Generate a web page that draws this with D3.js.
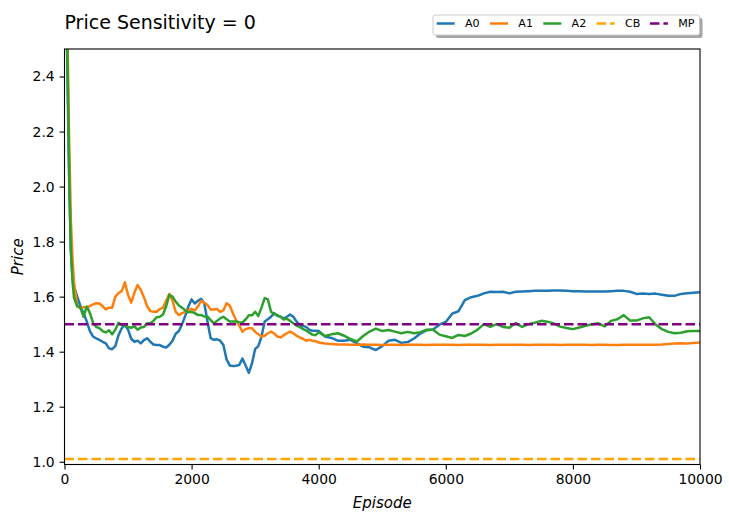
<!DOCTYPE html>
<html>
<head>
<meta charset="utf-8">
<script src="https://cdn.jsdelivr.net/npm/d3@7"></script>
<style>
  html, body { margin: 0; padding: 0; background: #fff; }
  svg { display: block; font-family: "DejaVu Sans", sans-serif; }
</style>
</head>
<body>
<svg id="chart" width="729" height="512"></svg>
<script>
// Episode grid: fine steps through the early transient, then coarser.
const episodes = [0, 25, 50, 75, 100, 125, 150]
  .concat(d3.range(200, 4001, 50))
  .concat(d3.range(4100, 10001, 100));

// Agent A0 price trajectory
const priceA0 = [
  3.0, 2.7, 2.35, 2.0, 1.77, 1.67, 1.636,
  1.600, 1.566, 1.540, 1.510, 1.475, 1.455, 1.448, 1.443, 1.436, 1.430,
  1.412, 1.409, 1.420, 1.460, 1.485, 1.497, 1.480, 1.447, 1.436, 1.440,
  1.430, 1.442, 1.449, 1.436, 1.426, 1.424, 1.424, 1.418, 1.415, 1.425,
  1.440, 1.465, 1.475, 1.500, 1.530, 1.565, 1.590, 1.575, 1.585, 1.592,
  1.575, 1.510, 1.449, 1.443, 1.445, 1.440, 1.424, 1.372, 1.350, 1.348,
  1.349, 1.352, 1.375, 1.350, 1.323, 1.357, 1.410, 1.420, 1.455, 1.510,
  1.518, 1.527, 1.540, 1.530, 1.527, 1.521, 1.527, 1.535, 1.527, 1.510,
  1.497, 1.494, 1.490, 1.480, 1.476, 1.476, 1.475,
  1.455, 1.450, 1.440, 1.440, 1.443, 1.430, 1.418, 1.416, 1.406, 1.420,
  1.440, 1.443, 1.432, 1.435, 1.448, 1.466, 1.478, 1.481, 1.498, 1.508,
  1.538, 1.547, 1.587, 1.598, 1.603, 1.612, 1.618, 1.617, 1.618, 1.612,
  1.618, 1.619, 1.620, 1.621, 1.621, 1.621, 1.622, 1.622, 1.621, 1.620,
  1.620, 1.619, 1.619, 1.619, 1.619, 1.620, 1.621, 1.621, 1.618, 1.610,
  1.611, 1.610, 1.611, 1.607, 1.603, 1.603, 1.610, 1.612, 1.614, 1.616
];

// Agent A1 price trajectory
const priceA1 = [
  3.2, 2.85, 2.5, 2.15, 1.88, 1.74, 1.65,
  1.567, 1.558, 1.562, 1.560, 1.566, 1.572, 1.576, 1.575, 1.565, 1.554,
  1.560, 1.560, 1.600, 1.613, 1.620, 1.652, 1.606, 1.578, 1.615, 1.642,
  1.625, 1.598, 1.565, 1.548, 1.545, 1.545, 1.555, 1.560, 1.585, 1.610,
  1.585, 1.545, 1.533, 1.540, 1.545, 1.552, 1.555, 1.550, 1.565, 1.585,
  1.578, 1.570, 1.553, 1.553, 1.555, 1.545, 1.550, 1.576, 1.568, 1.540,
  1.515, 1.495, 1.473, 1.482, 1.485, 1.485, 1.472, 1.463, 1.455, 1.458,
  1.467, 1.473, 1.466, 1.455, 1.452, 1.460, 1.467, 1.473, 1.467, 1.458,
  1.452, 1.447, 1.440, 1.443, 1.440, 1.438, 1.433,
  1.430, 1.428, 1.426, 1.426, 1.425, 1.425, 1.426, 1.425, 1.425, 1.424,
  1.425, 1.425, 1.424, 1.425, 1.425, 1.425, 1.424, 1.425, 1.425, 1.425,
  1.425, 1.424, 1.425, 1.425, 1.425, 1.425, 1.424, 1.425, 1.425, 1.425,
  1.425, 1.425, 1.424, 1.425, 1.425, 1.425, 1.425, 1.424, 1.425, 1.425,
  1.425, 1.425, 1.424, 1.425, 1.425, 1.424, 1.424, 1.425, 1.425, 1.425,
  1.425, 1.425, 1.425, 1.426, 1.428, 1.430, 1.431, 1.430, 1.432, 1.433
];

// Agent A2 price trajectory
const priceA2 = [
  3.1, 2.78, 2.42, 2.03, 1.77, 1.66, 1.595,
  1.565, 1.560, 1.527, 1.564, 1.540, 1.505, 1.490, 1.485, 1.475, 1.470,
  1.478, 1.463, 1.480, 1.505, 1.497, 1.495, 1.490, 1.487, 1.492, 1.480,
  1.488, 1.490, 1.503, 1.503, 1.512, 1.525, 1.527, 1.535, 1.565, 1.606,
  1.600, 1.582, 1.568, 1.560, 1.550, 1.543, 1.545, 1.540, 1.533, 1.533,
  1.528, 1.527, 1.515, 1.503, 1.512, 1.521, 1.527, 1.518, 1.510, 1.510,
  1.510, 1.507, 1.506, 1.517, 1.532, 1.532, 1.545, 1.530, 1.560, 1.595,
  1.590, 1.545, 1.537, 1.533, 1.527, 1.517, 1.520, 1.512, 1.503, 1.495,
  1.490, 1.483, 1.477, 1.470, 1.462, 1.460, 1.470,
  1.457, 1.463, 1.467, 1.458, 1.446, 1.437, 1.457, 1.473, 1.484, 1.475,
  1.479, 1.473, 1.467, 1.472, 1.467, 1.471, 1.480, 1.480, 1.462, 1.456,
  1.450, 1.461, 1.457, 1.466, 1.480, 1.500, 1.490, 1.500, 1.490, 1.487,
  1.504, 1.490, 1.500, 1.505, 1.512, 1.509, 1.503, 1.491, 1.486, 1.482,
  1.488, 1.494, 1.500, 1.503, 1.492, 1.512, 1.518, 1.533, 1.513, 1.513,
  1.521, 1.525, 1.499, 1.482, 1.472, 1.467, 1.469, 1.474, 1.475, 1.475
];

// Reference levels: competitive benchmark and monopoly price
const priceCB = 1.01;
const priceMP = 1.5;

const seriesNames = ["A0", "A1", "A2", "CB", "MP"];
const seriesColors = ["#1f77b4", "#ff7f0e", "#2ca02c", "#ffa500", "#800080"];

const xTicks = [0, 2000, 4000, 6000, 8000, 10000];
const yTicks = [1.0, 1.2, 1.4, 1.6, 1.8, 2.0, 2.2, 2.4];

const titleText = "Price Sensitivity = 0";
const xLabel = "Episode";
const yLabel = "Price";

// ---- layout ----
const W = 729, H = 512;
const plot = { left: 64.5, right: 700, top: 49, bottom: 464.5 };
const lineW = 2.5;
const dash = "9.5,4";

const svg = d3.select("#chart");

const x = d3.scaleLinear().domain([0, 10000]).range([plot.left, plot.right]);
const y = d3.scaleLinear().domain([0.99, 2.5]).range([plot.bottom, plot.top]);

svg.append("defs").append("clipPath").attr("id", "plot-clip")
  .append("rect")
  .attr("x", plot.left).attr("y", plot.top)
  .attr("width", plot.right - plot.left)
  .attr("height", plot.bottom - plot.top);

const lineGen = d3.line()
  .x(d => x(d[0]))
  .y(d => y(d[1]));

const lines = svg.append("g").attr("clip-path", "url(#plot-clip)");

[priceA0, priceA1, priceA2].forEach((vals, i) => {
  lines.append("path")
    .datum(episodes.map((e, k) => [e, vals[k]]))
    .attr("d", lineGen)
    .attr("fill", "none")
    .attr("stroke", seriesColors[i])
    .attr("stroke-width", lineW)
    .attr("stroke-linejoin", "round");
});

[priceCB, priceMP].forEach((v, i) => {
  lines.append("path")
    .datum([[0, v], [10000, v]])
    .attr("d", lineGen)
    .attr("fill", "none")
    .attr("stroke", seriesColors[3 + i])
    .attr("stroke-width", lineW)
    .attr("stroke-dasharray", dash);
});

// ---- axes ----
const xAxis = d3.axisBottom(x).tickValues(xTicks).tickFormat(d3.format("d"))
  .tickSize(4.9).tickPadding(4.9).tickSizeOuter(0);
const yAxis = d3.axisLeft(y).tickValues(yTicks).tickFormat(d3.format(".1f"))
  .tickSize(4.9).tickPadding(4.9).tickSizeOuter(0);

const gx = svg.append("g").attr("transform", `translate(0,${plot.bottom})`).call(xAxis);
const gy = svg.append("g").attr("transform", `translate(${plot.left},0)`).call(yAxis);

[gx, gy].forEach(g => {
  g.select(".domain").remove();
  g.selectAll(".tick line").attr("stroke", "#000").attr("stroke-width", 1.1);
  g.selectAll(".tick text")
    .attr("fill", "#000")
    .style("font-family", "DejaVu Sans")
    .style("font-size", "13.9px");
});

// frame
svg.append("rect")
  .attr("x", plot.left).attr("y", plot.top)
  .attr("width", plot.right - plot.left)
  .attr("height", plot.bottom - plot.top)
  .attr("fill", "none")
  .attr("stroke", "#000")
  .attr("stroke-width", 1.1);

// ---- labels ----
svg.append("text")
  .attr("x", plot.left).attr("y", 29)
  .style("font-size", "19px")
  .attr("fill", "#000")
  .text(titleText);

svg.append("text")
  .attr("x", (plot.left + plot.right) / 2).attr("y", 508)
  .attr("text-anchor", "middle")
  .style("font-size", "15px")
  .style("font-style", "italic")
  .attr("fill", "#000")
  .text(xLabel);

svg.append("text")
  .attr("transform", `translate(23,${(plot.top + plot.bottom) / 2}) rotate(-90)`)
  .attr("text-anchor", "middle")
  .style("font-size", "15px")
  .style("font-style", "italic")
  .attr("fill", "#000")
  .text(yLabel);

// ---- legend ----
const leg = { x: 433, y: 15, w: 266.5, h: 20 };
const lg = svg.append("g");
lg.append("rect")
  .attr("x", leg.x + 3).attr("y", leg.y + 3)
  .attr("width", leg.w).attr("height", leg.h)
  .attr("rx", 2)
  .attr("fill", "#a6a6a6");
lg.append("rect")
  .attr("x", leg.x).attr("y", leg.y)
  .attr("width", leg.w).attr("height", leg.h)
  .attr("rx", 2)
  .attr("fill", "#fff")
  .attr("stroke", "#cccccc")
  .attr("stroke-width", 1);

const itemStep = 53.3;
seriesNames.forEach((name, i) => {
  const x0 = leg.x + 3.7 + i * itemStep;
  const ly = 23.5;
  const h = lg.append("line")
    .attr("x1", x0).attr("x2", x0 + 18)
    .attr("y1", ly).attr("y2", ly)
    .attr("stroke", seriesColors[i])
    .attr("stroke-width", lineW);
  if (i >= 3) h.attr("stroke-dasharray", dash);
  lg.append("text")
    .attr("x", x0 + 28.3).attr("y", 27.3)
    .style("font-size", "11.1px")
    .attr("fill", "#000")
    .text(name);
});
</script>
</body>
</html>
